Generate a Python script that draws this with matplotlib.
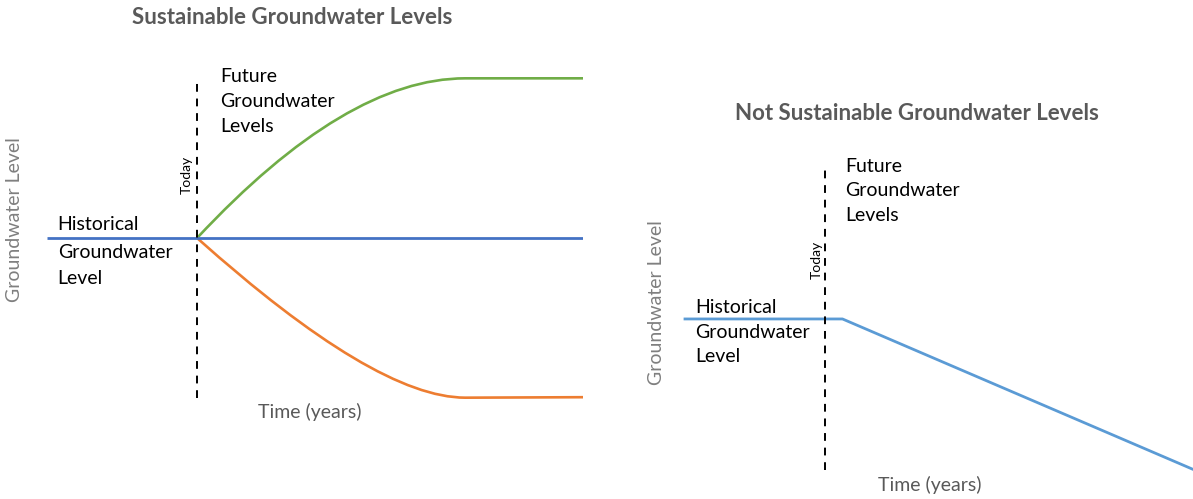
import numpy as np
import matplotlib.pyplot as plt
from matplotlib.path import Path
from matplotlib.patches import PathPatch

plt.rcParams['font.family'] = ['Lato', 'DejaVu Sans']

# left panel: sustainable (time and level in arbitrary units)
today_left = 2.8
hist_time = [0, 10]
hist_level = [0, 0]
# smooth curves: start, bezier control, end of bend, end of flat part
rise_time = [2.8, 5.58, 7.8, 10]
rise_level = [0, 9.98, 9.98, 9.98]
fall_time = [2.8, 6.13, 7.8, 10]
fall_level = [0, -9.98, -9.98, -9.95]

# right panel: not sustainable
today_right = 2.76
decline_time = [0, 3.1, 10]
decline_level = [0, 0, -9.4]

fig = plt.figure(figsize=(11.93, 4.99), dpi=100)
W, H = 1193, 499


def curve(ax, t, lv, color):
    verts = list(zip(t, lv))
    codes = [Path.MOVETO, Path.CURVE3, Path.CURVE3, Path.LINETO]
    ax.add_patch(PathPatch(Path(verts, codes), fill=False, edgecolor=color,
                           lw=1.9, capstyle='butt'))


ax1 = fig.add_axes([47 / W, 1 - 400 / H, 536 / W, 352 / H])
ax1.set_xlim(0, 10)
ax1.set_ylim(-10.125, 11.875)
curve(ax1, rise_time, rise_level, '#70AD47')
curve(ax1, fall_time, fall_level, '#ED7D31')
ax1.plot(hist_time, hist_level, color='#4472C4', lw=2.0, solid_capstyle='butt')
ax1.plot([today_left, today_left], [-10, 10], color='black', lw=1.4, ls=(0, (4, 3.5)))
ax1.axis('off')

txt = dict(fontsize=14, color='black', va='center', ha='left')
for lab, lv in zip(['Historical', 'Groundwater', 'Level'], [0.875, -0.875, -2.5]):
    ax1.text(0.2, lv, lab, **txt)
for lab, lv in zip(['Future', 'Groundwater', 'Levels'], [10.1, 8.56, 6.94]):
    ax1.text(3.23, lv, lab, **txt)
ax1.text(2.61, 3.94, 'Today', rotation=90, fontsize=10, ha='center', va='center')

ax2 = fig.add_axes([685 / W, 1 - 490 / H, 508 / W, 340 / H])
ax2.set_xlim(0, 10)
ax2.set_ylim(-10.69, 10.56)
ax2.plot(decline_time, decline_level, color='#5B9BD5', lw=2.0, clip_on=False)
ax2.plot([today_right, today_right], [-9.44, 9.31], color='black', lw=1.4, ls=(0, (4, 3.5)))
ax2.axis('off')
for lab, lv in zip(['Historical', 'Groundwater', 'Level'], [0.69, -0.875, -2.375]):
    ax2.text(0.2, lv, lab, **txt)
for lab, lv in zip(['Future', 'Groundwater', 'Levels'], [9.56, 8.0, 6.44]):
    ax2.text(3.15, lv, lab, **txt)
ax2.text(2.6, 3.69, 'Today', rotation=90, fontsize=10, ha='center', va='center')

# titles and axis captions
fig.text(292 / W, 1 - 18 / H, 'Sustainable Groundwater Levels', fontsize=16,
         fontweight='bold', color='#595959', ha='center', va='center')
fig.text(917 / W, 1 - 113 / H, 'Not Sustainable Groundwater Levels', fontsize=16,
         fontweight='bold', color='#595959', ha='center', va='center')
fig.text(15 / W, 1 - 220 / H, 'Groundwater Level', rotation=90, fontsize=14,
         color='#7F7F7F', ha='center', va='center')
fig.text(657 / W, 1 - 303 / H, 'Groundwater Level', rotation=90, fontsize=14,
         color='#7F7F7F', ha='center', va='center')
fig.text(310 / W, 1 - 412 / H, 'Time (years)', fontsize=14, color='#595959',
         ha='center', va='center')
fig.text(930 / W, 1 - 485 / H, 'Time (years)', fontsize=14, color='#595959',
         ha='center', va='center')

fig.savefig('out.png', dpi=100)
